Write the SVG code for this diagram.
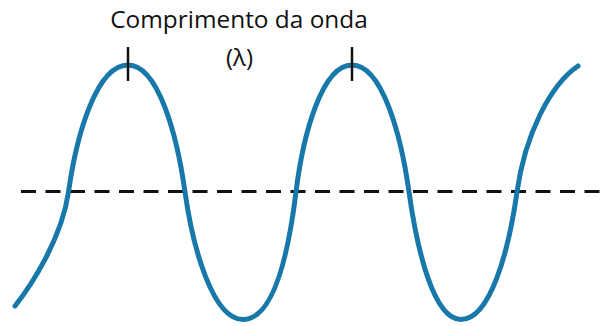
<svg xmlns="http://www.w3.org/2000/svg" width="604" height="326" viewBox="0 0 604 326">
  <style>
    .wave { fill: none; stroke: #1878a9; stroke-width: 5; stroke-linecap: round; stroke-linejoin: round; }
    .axis { fill: none; stroke: #111; stroke-width: 3; stroke-dasharray: 15 9.5; }
    .tick { stroke: #111; stroke-width: 2.5; }
    .label { font-family: "Open Sans", "Liberation Sans", sans-serif; fill: #111; text-anchor: middle; }
  </style>
  <rect width="604" height="326" fill="#fff"/>
  <g id="axis">
    <line class="axis" x1="21" y1="191.5" x2="604" y2="191.5"/>
  </g>
  <g id="wave">
    <path class="wave" d="M15,306 C30,287 61.5,240 68.5,192 C76.5,135 96.5,65 128,65 C158.2,65 177,135 185,192 C193,249 213,319.5 243,319.5 C275,319.5 289,249 296,192 C303,135 321.8,65 352,65 C382.2,65 401,135 409,192 C417,249 433.4,319.5 461,319.5 C490.7,319.5 509,249 517,192 C525,135 550,85 578,66"/>
  </g>
  <g id="ticks">
    <line class="tick" x1="128" y1="47" x2="128" y2="81"/>
    <line class="tick" x1="352" y1="47" x2="352" y2="81"/>
  </g>
  <g id="labels">
    <text class="label" x="239" y="28" font-size="24.4">Comprimento da onda</text>
    <text class="label" x="239.5" y="66" font-size="24">(λ)</text>
  </g>
</svg>
